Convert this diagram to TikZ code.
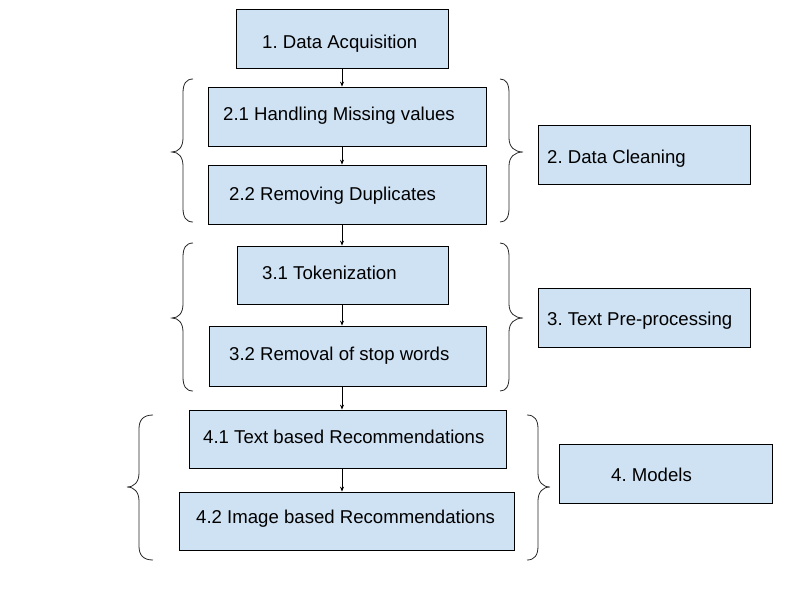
\documentclass[tikz,border=0pt]{standalone}
\usepackage{fontspec}
\setmainfont{Liberation Sans}
\usetikzlibrary{arrows.meta}
\definecolor{boxfill}{HTML}{CFE2F3}
\frenchspacing
\newcommand\drawbrace[6]{%
  \draw[bracestyle] (#1,#4) .. controls ({#1+(#2-#1)*0.7},#4) and (#2,{#4+5}) .. (#2,{#4+14})
    -- (#2,{#5-14}) .. controls (#2,{#5-5}) and ({#2+(#3-#2)*0.4},#5) .. (#3,#5)
    .. controls ({#2+(#3-#2)*0.4},#5) and (#2,{#5+5}) .. (#2,{#5+14})
    -- (#2,{#6-14}) .. controls (#2,{#6-5}) and ({#1+(#2-#1)*0.7},#6) .. (#1,#6);}
\begin{document}
\begin{tikzpicture}[x=1pt,y=-1pt,
  box/.style={draw=black, line width=0.8pt, fill=boxfill, inner sep=0pt},
  txt/.style={anchor=base west, inner sep=0pt, font=\fontsize{18.6}{22}\selectfont\frenchspacing},
  conn/.style={draw=black, line width=0.8pt, -{Stealth[length=5pt,width=4pt]}},
  bracestyle/.style={draw=black!85, line width=0.8pt}]
\useasboundingbox (0,0) rectangle (800,600);
% boxes
\node[box, minimum width=212pt, minimum height=59pt] (b1)  at (342,38.5) {};
\node[box, minimum width=278pt, minimum height=59pt] (b21) at (347,116.5) {};
\node[box, minimum width=278pt, minimum height=59pt] (b22) at (347,194.5) {};
\node[box, minimum width=212pt, minimum height=59pt] (b2)  at (644,154.5) {};
\node[box, minimum width=211pt, minimum height=58pt] (b31) at (342.5,275) {};
\node[box, minimum width=277pt, minimum height=60pt] (b32) at (347.5,356) {};
\node[box, minimum width=212pt, minimum height=59pt] (b3)  at (644,317.5) {};
\node[box, minimum width=317pt, minimum height=58pt] (b41) at (347.5,439) {};
\node[box, minimum width=335pt, minimum height=58pt] (b42) at (346.5,521) {};
\node[box, minimum width=213pt, minimum height=59pt] (b4)  at (665.5,473.5) {};
% texts
\node[txt] (t1)  at (262,48)  {1. Data Acquisition};
\node[txt] (t21) at (223,120) {2.1 Handling Missing values};
\node[txt] (t22) at (229,200) {2.2 Removing Duplicates};
\node[txt] (t2)  at (547,163) {2. Data Cleaning};
\node[txt] (t31) at (262,279) {3.1 Tokenization};
\node[txt] (t32) at (229,360) {3.2 Removal of stop words};
\node[txt] (t3)  at (547,325) {3. Text Pre-processing};
\node[txt] (t41) at (203,443) {4.1 Text based Recommendations};
\node[txt] (t42) at (196,523) {4.2 Image based Recommendations};
\node[txt] (t4)  at (611,481) {4. Models};
% connectors
\draw[conn] (b1.south) -- (b1.south |- b21.north);
\draw[conn] (b21.south -| b1.south) -- (b22.north -| b1.south);
\draw[conn] (b22.south -| b1.south) -- (b31.north -| b1.south);
\draw[conn] (b31.south -| b1.south) -- (b32.north -| b1.south);
\draw[conn] (b32.south -| b1.south) -- (b41.north -| b1.south);
\draw[conn] (b41.south -| b1.south) -- (b42.north -| b1.south);
% braces
\drawbrace{193}{183}{172}{79}{152}{222}
\drawbrace{500}{509}{523}{79}{152}{222}
\drawbrace{193}{183}{172}{243}{318}{391}
\drawbrace{500}{509}{523}{243}{318}{391}
\drawbrace{153}{139}{127}{415}{487}{560}
\drawbrace{527}{538}{550}{415}{487}{560}
\end{tikzpicture}
\end{document}
